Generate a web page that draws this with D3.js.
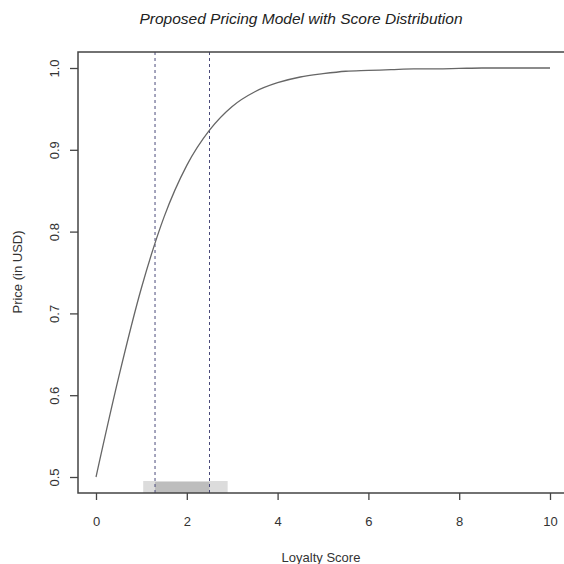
<!DOCTYPE html>
<html><head><meta charset="utf-8">
<script src="https://cdn.jsdelivr.net/npm/d3@7"></script>
<style>body{margin:0;background:#fff}svg{display:block}</style>
</head><body>
<script>
// Data
const scoreX = [0,0.5,1,1.5,2,2.5,3,3.5,4,4.5,5,5.5,6,6.5,7,7.5,8,8.5,9,9.5,10];
const priceY = [0.5,0.622,0.731,0.818,0.881,0.924,0.953,0.971,0.982,0.989,0.993,0.996,0.997,0.998,0.999,0.999,0.9995,1.0,1.0,1.0,1.0];
const xTicks = [0,2,4,6,8,10];
const yTicks = [0.5,0.6,0.7,0.8,0.9,1.0];
const cutoffs = [1.3,2.5];
const whiskerRange = [1.04,2.9];
const boxRange = [1.3,2.5];
const titleText = "Proposed Pricing Model with Score Distribution";
const xLabel = "Loyalty Score";
const yLabel = "Price (in USD)";

const W = 564, H = 564;
const pLeft = 78, pRight = 564, pTop = 52, pBottom = 493;
const x = d3.scaleLinear().domain([0,10]).range([96,550]);
const y = d3.scaleLinear().domain([0.5,1.0]).range([477,68]);
const font = "'Liberation Sans', Arial, Helvetica, sans-serif";

const svg = d3.select("body").append("svg").attr("width",W).attr("height",H);

// distribution strip
svg.append("rect").attr("x",x(whiskerRange[0])).attr("width",x(whiskerRange[1])-x(whiskerRange[0]))
  .attr("y",481).attr("height",pBottom-481).attr("fill","#dcdcdc");
svg.append("rect").attr("x",x(boxRange[0])).attr("width",x(boxRange[1])-x(boxRange[0]))
  .attr("y",482).attr("height",pBottom-482).attr("fill","#bdbdbd");

// cutoff lines
svg.selectAll("line.cut").data(cutoffs).join("line").attr("class","cut")
  .attr("x1",d=>x(d)).attr("x2",d=>x(d)).attr("y1",pTop).attr("y2",pBottom)
  .attr("stroke","#4a4a7a").attr("stroke-width",1).attr("stroke-dasharray","3,3");

// curve
const line = d3.line().x((d,i)=>x(scoreX[i])).y(d=>y(d)).curve(d3.curveMonotoneX);
svg.append("path").datum(priceY).attr("d",line).attr("fill","none")
  .attr("stroke","#666").attr("stroke-width",1.3);

// frame (left, top, bottom)
svg.append("path").attr("d",`M${pRight},${pTop}H${pLeft}V${pBottom}H${pRight}`)
  .attr("fill","none").attr("stroke","#444").attr("stroke-width",1.5);

// x axis
const xa = svg.append("g").attr("transform",`translate(0,${pBottom})`)
  .call(d3.axisBottom(x).tickValues(xTicks).tickSize(7).tickPadding(17).tickFormat(d3.format("d")));
xa.select(".domain").remove();
xa.selectAll("line").attr("stroke","#444").attr("stroke-width",1.3);
xa.selectAll("text").attr("font-family",font).attr("font-size",13).attr("fill","#333");

// y axis
const ya = svg.append("g").attr("transform",`translate(${pLeft},0)`)
  .call(d3.axisLeft(y).tickValues(yTicks).tickSize(8).tickFormat(d3.format(".1f")));
ya.select(".domain").remove();
ya.selectAll("line").attr("stroke","#444").attr("stroke-width",1.3);
ya.selectAll("text").attr("font-family",font).attr("font-size",13).attr("fill","#333")
  .attr("text-anchor","middle").attr("x",0)
  .attr("transform","translate(-24,0) rotate(-90)").attr("dy","0.35em");

// titles
svg.append("text").attr("x",301).attr("y",24).attr("text-anchor","middle")
  .attr("font-family",font).attr("font-size",15.5).attr("font-style","italic").attr("fill","#222").text(titleText);
svg.append("text").attr("x",321).attr("y",562).attr("text-anchor","middle")
  .attr("font-family",font).attr("font-size",13).attr("fill","#333").text(xLabel);
svg.append("text").attr("transform","translate(22,272) rotate(-90)").attr("text-anchor","middle")
  .attr("font-family",font).attr("font-size",13).attr("fill","#333").text(yLabel);
</script>
</body></html>
